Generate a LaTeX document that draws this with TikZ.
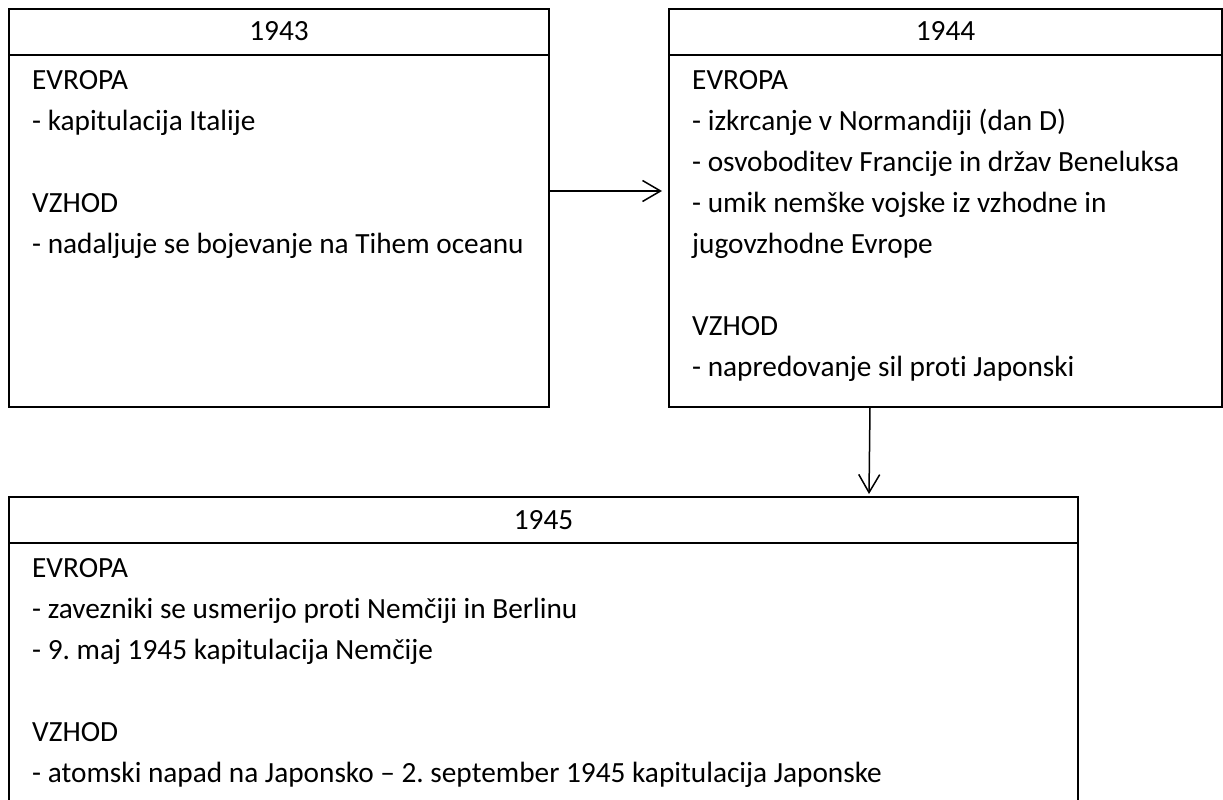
\documentclass[tikz,border=0pt]{standalone}
\usepackage{fontspec}
\setmainfont{Carlito}[Ligatures=NoCommon]
\usetikzlibrary{arrows.meta,calc}
\frenchspacing
\tikzset{
  yearbox/.style={draw, line width=1.3pt, rectangle, inner sep=0pt, outer sep=0pt, anchor=north west},
  openbox/.style={rectangle, inner sep=0pt, outer sep=0pt, anchor=north west},
  hdr/.style={line width=1.3pt},
  txt/.style={anchor=base west, inner sep=0pt, font=\fontsize{29.3}{35}\selectfont\frenchspacing},
  yr/.style={anchor=base, inner sep=0pt, font=\fontsize{29.3}{35}\selectfont},
  arr/.style={line width=1.5pt, -{Straight Barb[length=18pt,width=21pt,line width=1.5pt]}}
}
\begin{document}
\begin{tikzpicture}[x=1pt,y=-1pt]
\useasboundingbox (0,0) rectangle (1223,800);
\fill[white] (0,0) rectangle (1223,800);
% boxes
\node[yearbox, minimum width=540pt, minimum height=398pt] (b43) at (9,9) {};
\node[yearbox, minimum width=553pt, minimum height=398pt] (b44) at (669,9) {};
\node[openbox, minimum width=1069pt, minimum height=303pt] (b45) at (9,497) {};
\draw[hdr] (b45.south west) |- (b45.north east) -- (b45.south east);
% header lines
\draw[hdr] ([yshift=-46pt]b43.north west) -- ([yshift=-46pt]b43.north east);
\draw[hdr] ([yshift=-46pt]b44.north west) -- ([yshift=-46pt]b44.north east);
\draw[hdr] ([yshift=-46pt]b45.north west) -- ([yshift=-46pt]b45.north east);
% years
\node[yr] (y43) at ([yshift=-32pt]b43.north) {1943};
\node[yr] (y44) at ([yshift=-32pt]b44.north) {1944};
\node[yr] (y45) at ([yshift=-32pt]b45.north) {1945};
% box 1943
\node[txt] (a1) at (32,89) {EVROPA};
\node[txt] (a2) at (32,130) {- kapitulacija Italije};
\node[txt] (a3) at (32,212) {VZHOD};
\node[txt] (a4) at (32,253) {- nadaljuje se bojevanje na Tihem oceanu};
% box 1944
\node[txt] (c1) at (692,89) {EVROPA};
\node[txt] (c2) at (692,130) {- izkrcanje v Normandiji (dan D)};
\node[txt] (c3) at (692,171) {- osvoboditev Francije in držav Beneluksa};
\node[txt] (c4) at (692,212) {- umik nemške vojske iz vzhodne in};
\node[txt] (c5) at (692,253) {jugovzhodne Evrope};
\node[txt] (c6) at (692,335) {VZHOD};
\node[txt] (c7) at (692,376) {- napredovanje sil proti Japonski};
% box 1945
\node[txt] (d1) at (32,577) {EVROPA};
\node[txt] (d2) at (32,618) {- zavezniki se usmerijo proti Nemčiji in Berlinu};
\node[txt] (d3) at (32,659) {- 9. maj 1945 kapitulacija Nemčije};
\node[txt] (d4) at (32,741) {VZHOD};
\node[txt] (d5) at (32,782) {- atomski napad na Japonsko – 2. september 1945 kapitulacija Japonske};
% arrows
\draw[arr] ([yshift=17pt]b43.east) -- ([yshift=17pt,xshift=-7pt]b44.west);
\draw[arr] ([xshift=-75.5pt]b44.south) -- ([xshift=-76.5pt,yshift=3pt]b44.south |- b45.north);
\end{tikzpicture}
\end{document}
